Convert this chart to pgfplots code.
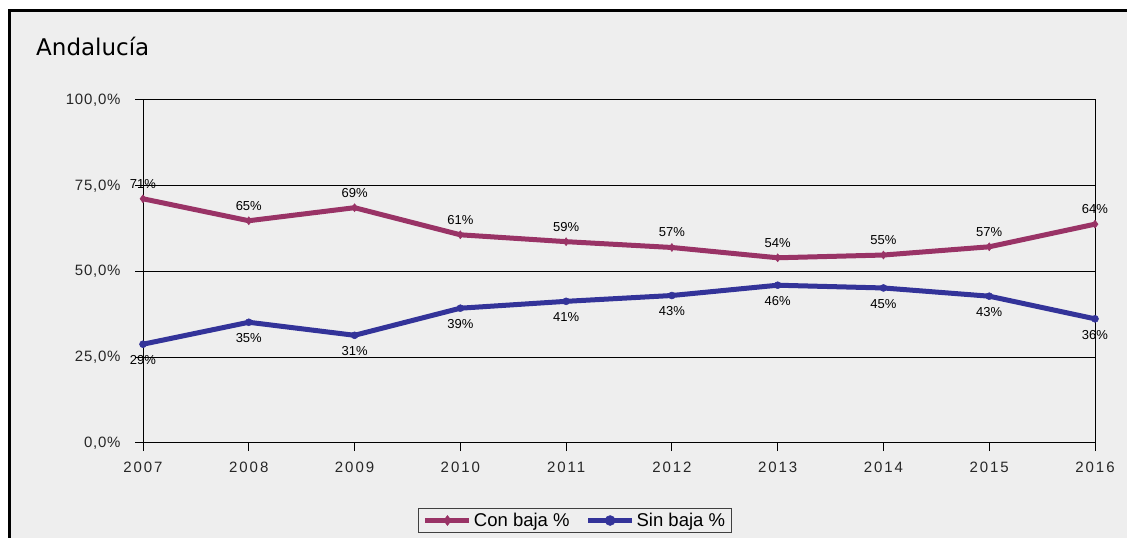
\documentclass[border=0pt]{standalone}
\usepackage{fontspec}
\setmainfont{Liberation Sans}
\newfontfamily\titlefont{DejaVu Sans}
\newfontfamily\xtickfont[LetterSpace=13]{Liberation Sans}
\newfontfamily\ytickfont[LetterSpace=5]{Liberation Sans}
\usepackage{pgfplots}
\pgfplotsset{compat=1.18}

\definecolor{conbaja}{HTML}{993366}
\definecolor{sinbaja}{HTML}{333399}
\definecolor{fondo}{HTML}{EEEEEE}

\pgfplotsset{
  leyenda/.style={
    legend image code/.code={
      \draw[##1, mark=none] (-22pt,0pt) -- (22pt,0pt);
      \draw[##1, mark size=5pt] plot coordinates {(0pt,0pt)};
    }
  },
}

\begin{document}
\begin{tikzpicture}[x=1pt,y=1pt]
  \useasboundingbox (0,0) rectangle (1127,538);
  \fill[white] (0,0) rectangle (1127,538);
  \fill[fondo] (9,0) rectangle (1127,527);
  \draw[line width=3pt] (9.5,0) -- (9.5,527.5) -- (1127,527.5);
  \node[anchor=base west, inner sep=0pt, font=\titlefont\fontsize{23}{27}\selectfont] at (36,482) {Andalucía};

  \begin{axis}[
    at={(143pt,95pt)}, anchor=south west,
    scale only axis, width=952pt, height=343pt,
    xmin=2007, xmax=2016,
    ymin=0, ymax=100,
    xtick={2007,2008,2009,2010,2011,2012,2013,2014,2015,2016},
    xticklabels={2007,2008,2009,2010,2011,2012,2013,2014,2015,2016},
    ytick={0,25,50,75,100},
    yticklabels={{0,0\%},{25,0\%},{50,0\%},{75,0\%},{100,0\%}},
    xtick pos=bottom, ytick pos=left,
    tick align=outside, major tick length=8pt,
    tick style={black, line width=1pt},
    axis line style={black, line width=1pt},
    ymajorgrids=true,
    major grid style={black, line width=1pt},
    axis background/.style={fill=fondo},
    xticklabel style={font=\xtickfont\fontsize{15}{18}\selectfont, text=black!85, yshift=-7pt},
    yticklabel style={font=\ytickfont\fontsize{15}{18}\selectfont, text=black!85, xshift=-11pt},
    clip=false,
    legend columns=2,
    legend style={
      at={(axis description cs:0.4538,-0.226)}, anchor=center,
      draw=black!75, line width=1pt, fill=fondo,
      font=\fontsize{18.5}{21}\selectfont,
      inner xsep=4pt, inner ysep=3pt,
      /tikz/every even column/.append style={column sep=14pt},
    },
    nodes near coords={\pgfmathprintnumber[fixed,precision=0,assume math mode=true]{\pgfplotspointmeta}\%},
    every node near coord/.append style={font=\fontsize{13}{15}\selectfont, text=black, anchor=center, inner sep=0pt},
  ]
    \addplot[
      color=conbaja, line width=5pt,
      mark=diamond*, mark size=4pt, mark options={solid, line width=0.5pt},
      point meta=y, leyenda,
      every node near coord/.append style={yshift=15pt},
    ] coordinates {
      (2007,71.2) (2008,64.8) (2009,68.6) (2010,60.7) (2011,58.7)
      (2012,57.0) (2013,54.0) (2014,54.8) (2015,57.2) (2016,63.8)
    };
    \addlegendentry{Con baja \%}

    \addplot[
      color=sinbaja, line width=5pt,
      mark=*, mark size=3.5pt, mark options={solid, line width=0.5pt},
      point meta=y, leyenda,
      every node near coord/.append style={yshift=-16pt},
    ] coordinates {
      (2007,28.8) (2008,35.2) (2009,31.4) (2010,39.3) (2011,41.3)
      (2012,43.0) (2013,46.0) (2014,45.2) (2015,42.8) (2016,36.2)
    };
    \addlegendentry{Sin baja \%}
  \end{axis}
\end{tikzpicture}
\end{document}
